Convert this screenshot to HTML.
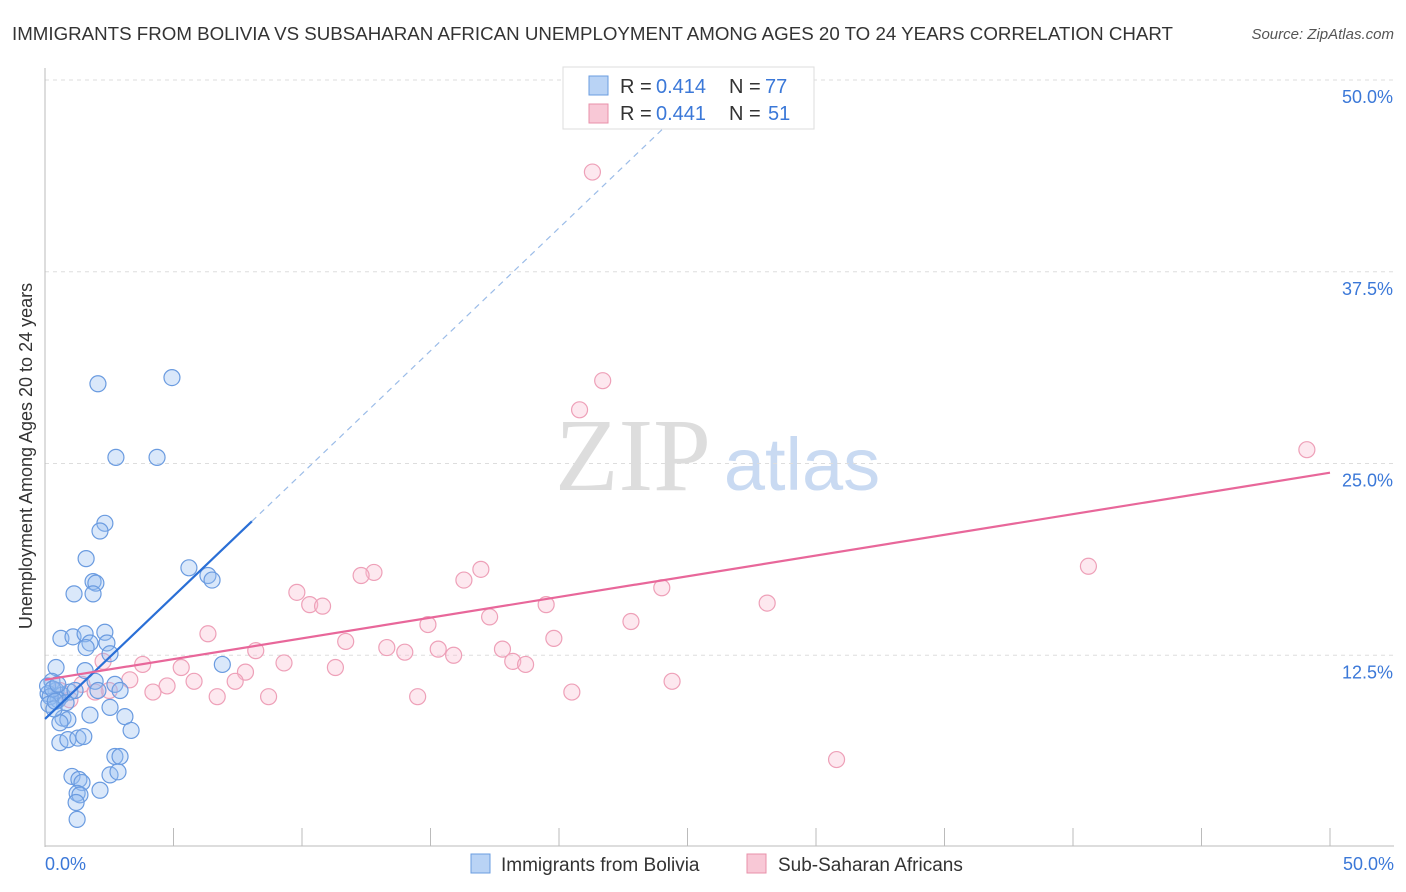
<!DOCTYPE html>
<html><head><meta charset="utf-8"><style>
body{margin:0;background:#fff;font-family:"Liberation Sans",sans-serif}
svg{display:block}
</style></head><body>
<svg id="chart" width="1406" height="892">
<text x="12" y="40" font-size="18" fill="#333" textLength="1161" lengthAdjust="spacingAndGlyphs">IMMIGRANTS FROM BOLIVIA VS SUBSAHARAN AFRICAN UNEMPLOYMENT AMONG AGES 20 TO 24 YEARS CORRELATION CHART</text>
<text x="1394" y="39" font-size="15" fill="#555" font-style="italic" text-anchor="end">Source: ZipAtlas.com</text>
<text x="32" y="456" font-size="18" fill="#333" text-anchor="middle" transform="rotate(-90 32 456)">Unemployment Among Ages 20 to 24 years</text>
<text x="633" y="490" font-size="104" fill="#ddd" font-family="Liberation Serif" text-anchor="middle">ZIP</text>
<text x="802" y="490" font-size="74" fill="#c9daf2" text-anchor="middle">atlas</text>
<g id="grid"></g><g id="axes"></g><g id="pts"></g><g id="lines"></g>
<g>
<rect x="563" y="67" width="251" height="62" fill="#fff" stroke="#ddd"/>
<rect x="589" y="76" width="19" height="19" fill="#b9d3f5" stroke="#6a9de0"/>
<text x="620" y="93" font-size="20" fill="#333">R =</text><text x="656" y="93" font-size="20" fill="#3b78d8">0.414</text>
<text x="729" y="93" font-size="20" fill="#333">N =</text><text x="765" y="93" font-size="20" fill="#3b78d8">77</text>
<rect x="589" y="104" width="19" height="19" fill="#f8c8d6" stroke="#e890aa"/>
<text x="620" y="120" font-size="20" fill="#333">R =</text><text x="656" y="120" font-size="20" fill="#3b78d8">0.441</text>
<text x="729" y="120" font-size="20" fill="#333">N =</text><text x="768" y="120" font-size="20" fill="#3b78d8">51</text>
</g>
<g>
<rect x="471" y="854" width="19" height="19" fill="#b9d3f5" stroke="#6a9de0"/>
<text x="501" y="871" font-size="19" fill="#333">Immigrants from Bolivia</text>
<rect x="747" y="854" width="19" height="19" fill="#f8c8d6" stroke="#e890aa"/>
<text x="778" y="871" font-size="19" fill="#333">Sub-Saharan Africans</text>
</g>
</svg>
<script>
const blueX=[2.06,4.94,2.76,4.36,2.33,2.14,1.6,5.6,1.87,1.98,6.34,6.5,1.13,1.87,0.62,1.09,1.56,1.75,2.33,2.41,1.6,2.53,0.43,1.56,6.9,1.95,0.27,0.43,0.12,0.66,0.97,1.17,0.51,0.82,2.06,2.72,2.92,0.7,0.89,0.58,1.75,2.53,3.11,3.35,0.58,0.89,1.28,1.51,2.72,2.92,1.05,1.32,1.44,2.53,2.84,1.25,1.36,2.14,1.21,1.25,0.1,0.2,0.3,0.15,0.35,0.5,0.4];
const blueY=[30.2,30.6,25.4,25.4,21.1,20.6,18.8,18.2,17.3,17.2,17.7,17.4,16.5,16.5,13.6,13.7,13.9,13.3,14.0,13.3,13.0,12.6,11.7,11.5,11.9,10.8,10.8,10.2,10.0,9.9,10.1,10.2,9.6,9.4,10.2,10.6,10.2,8.4,8.3,8.1,8.6,9.1,8.5,7.6,6.8,7.0,7.1,7.2,5.9,5.9,4.6,4.4,4.2,4.7,4.9,3.5,3.4,3.7,2.9,1.8,10.5,9.8,10.3,9.3,9.0,10.6,9.5];
const pinkX=[21.3,21.7,20.8,49.1,40.6,12.8,12.3,16.96,16.3,9.8,10.3,10.8,17.3,19.5,24.0,28.1,22.8,14.9,6.34,11.7,19.8,13.3,14.0,15.3,15.9,17.8,8.2,3.8,5.3,9.3,11.3,18.2,18.7,7.8,5.8,4.75,7.4,4.2,6.7,8.7,14.5,20.5,24.4,30.8,3.3,2.26,2.5,1.44,0.97,1.95,0.58];
const pinkY=[44.0,30.4,28.5,25.9,18.3,17.9,17.7,18.1,17.4,16.6,15.8,15.7,15.0,15.8,16.9,15.9,14.7,14.5,13.9,13.4,13.6,13.0,12.7,12.9,12.5,12.9,12.8,11.9,11.7,12.0,11.7,12.1,11.9,11.4,10.8,10.5,10.8,10.1,9.8,9.8,9.8,10.1,10.8,5.7,10.9,12.1,10.2,10.6,9.6,10.1,10.2];
const yTicks=[12.5,25,37.5,50];
const yTickLabels=["12.5%","25.0%","37.5%","50.0%"];
const blueTrend=[8.35,1.6];   // intercept, slope
const pinkTrend=[10.9,0.27];
const NS="http://www.w3.org/2000/svg";
const X=v=>45+v*25.7, Y=v=>847-v*15.34;
function mk(t,a,p){const e=document.createElementNS(NS,t);for(const k in a)e.setAttribute(k,a[k]);p.appendChild(e);return e;}
const grid=document.getElementById('grid'),axes=document.getElementById('axes'),pts=document.getElementById('pts'),lines=document.getElementById('lines');
yTicks.forEach((t,i)=>{
 const l=mk('line',{x1:45,x2:1394,y1:Y(t),y2:Y(t),stroke:'#ddd','stroke-dasharray':'4,4'},grid);
 
 
 const tx=mk('text',{x:1393,y:Y(t)+23,'font-size':18,fill:'#3b78d8','text-anchor':'end'},grid);
 tx.textContent=yTickLabels[i];
 
 
});
mk('line',{x1:45,x2:45,y1:68,y2:847,stroke:'#bbb'},axes);
mk('line',{x1:45,x2:1394,y1:846,y2:846,stroke:'#bbb'},axes);
for(let i=0;i<=10;i++){mk('line',{x1:X(i*5),x2:X(i*5),y1:828,y2:846,stroke:'#bbb'},axes);}
let t0=mk('text',{x:45,y:870,'font-size':18,fill:'#3b78d8'},axes);t0.textContent='0.0%';


let t1=mk('text',{x:1394,y:870,'font-size':18,fill:'#3b78d8','text-anchor':'end'},axes);t1.textContent='50.0%';


pinkX.forEach((x,i)=>{const c=mk('circle',{cx:X(x),cy:Y(pinkY[i]),r:8,fill:'rgba(248,190,208,0.35)',stroke:'#eea0b8','stroke-width':1.2},pts);
 
 });
blueX.forEach((x,i)=>{const c=mk('circle',{cx:X(x),cy:Y(blueY[i]),r:8,fill:'rgba(150,190,240,0.35)',stroke:'#6a9be0','stroke-width':1.2},pts);
 
 });
const bEnd=8.05,bDash=(50-blueTrend[0])/blueTrend[1];
let bl=mk('line',{x1:X(0),y1:Y(blueTrend[0]),x2:X(bEnd),y2:Y(blueTrend[0]+blueTrend[1]*bEnd),stroke:'#2a6fd6','stroke-width':2.2},lines);


let bd=mk('line',{x1:X(bEnd),y1:Y(blueTrend[0]+blueTrend[1]*bEnd),x2:X(bDash),y2:Y(50),stroke:'#9bbce8','stroke-width':1.2,'stroke-dasharray':'6,5'},lines);


let pl=mk('line',{x1:X(0),y1:Y(pinkTrend[0]),x2:X(50),y2:Y(pinkTrend[0]+pinkTrend[1]*50),stroke:'#e8679a','stroke-width':2.2},lines);


</script>
</body></html>
